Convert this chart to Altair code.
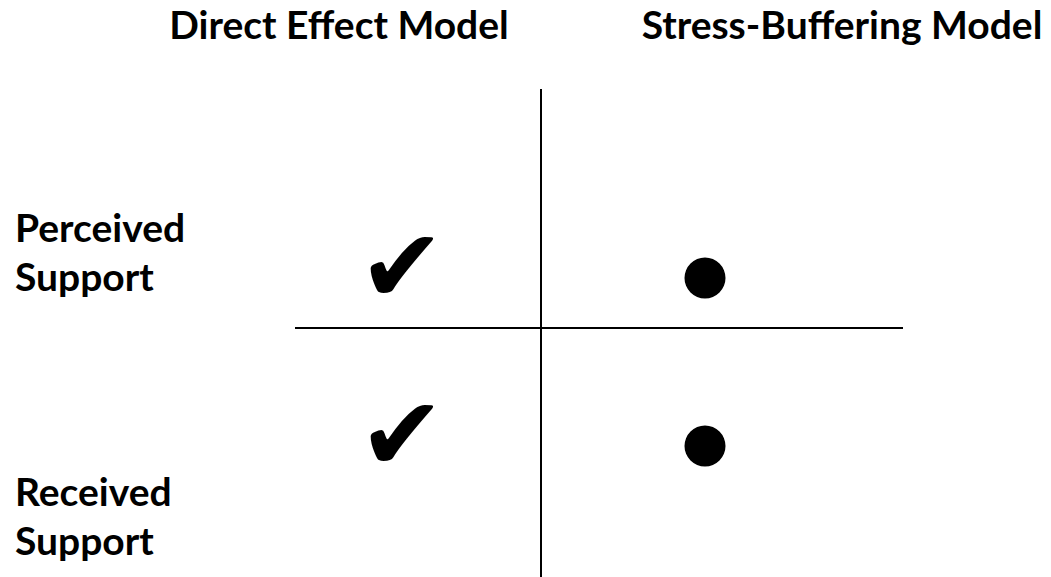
import altair as alt
import pandas as pd

# ---- content -------------------------------------------------------------
col_headers = ["Direct Effect Model", "Stress-Buffering Model"]
row_labels = ["Perceived Support", "Received Support"]

cell_rows = ["Perceived Support", "Perceived Support", "Received Support", "Received Support"]
cell_cols = ["Direct Effect Model", "Stress-Buffering Model", "Direct Effect Model", "Stress-Buffering Model"]
cell_marks = ["check", "dot", "check", "dot"]

# ---- layout / style --------------------------------------------------------
W, H = 1035, 569
FONT = "Lato"
TXT = 39

headers_df = pd.DataFrame({"header": col_headers})
rows_df = pd.DataFrame({"row": row_labels})
cells_df = pd.DataFrame({"row": cell_rows, "col": cell_cols, "mark": cell_marks})
one = pd.DataFrame({"k": [0]})

header_x = alt.Scale(type="point", domain=col_headers, range=[331, 834], padding=0)
label_y = alt.Scale(type="point", domain=row_labels, range=[234, 498], padding=0)
cell_x = alt.Scale(type="point", domain=col_headers, range=[394, 697], padding=0)
cell_y = alt.Scale(type="point", domain=row_labels, range=[270, 438], padding=0)

vrule = alt.Chart(one).mark_rule(color="black", strokeWidth=2).encode(
    x=alt.value(533), y=alt.value(81), y2=alt.value(H)
)
hrule = alt.Chart(one).mark_rule(color="black", strokeWidth=2).encode(
    x=alt.value(287), x2=alt.value(895), y=alt.value(320)
)

headers = alt.Chart(headers_df).mark_text(
    font=FONT, fontWeight="bold", fontSize=TXT, align="center",
    baseline="alphabetic", color="black"
).encode(
    x=alt.X("header:N", scale=header_x, axis=None),
    y=alt.value(31),
    text="header:N",
)

labels = alt.Chart(rows_df).mark_text(
    font=FONT, fontWeight="bold", fontSize=TXT, align="left",
    baseline="alphabetic", lineBreak=" ", lineHeight=49, color="black"
).encode(
    x=alt.value(7),
    y=alt.Y("row:N", scale=label_y, axis=None),
    text="row:N",
)

checks = alt.Chart(cells_df).transform_filter(
    alt.datum.mark == "check"
).mark_text(
    text="\u2714", font="DejaVu Sans", fontSize=103, align="center",
    baseline="middle", dy=-7, color="black"
).encode(
    x=alt.X("col:N", scale=cell_x, axis=None),
    y=alt.Y("row:N", scale=cell_y, axis=None),
)

dots = alt.Chart(cells_df).transform_filter(
    alt.datum.mark == "dot"
).mark_point(
    shape="circle", filled=True, size=1681, color="black", opacity=1
).encode(
    x=alt.X("col:N", scale=cell_x, axis=None),
    y=alt.Y("row:N", scale=cell_y, axis=None),
)

chart = alt.layer(vrule, hrule, headers, labels, checks, dots).resolve_scale(
    x="independent", y="independent"
).properties(
    width=W, height=H, padding=0,
    autosize=alt.AutoSizeParams(type="none"),
    background="white",
).configure_view(stroke=None)

chart.save("out.html", embed_options={"renderer": "svg", "actions": False})
